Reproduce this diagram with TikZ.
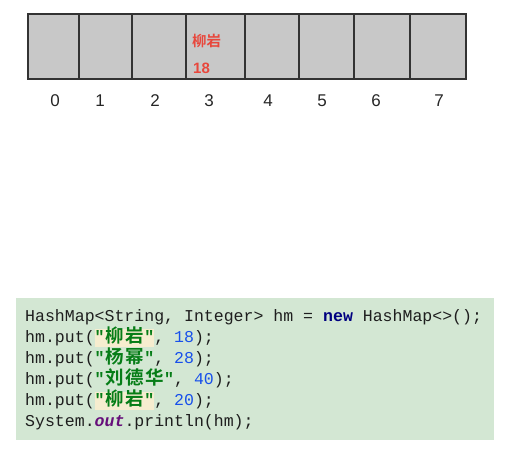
\documentclass[tikz,border=0pt]{standalone}
\usepackage{fontspec}
\setmonofont{Liberation Mono}
\newfontfamily\cjk{Noto Sans CJK SC}[BoldFont={Noto Sans CJK SC Bold}]
\newfontfamily\labfont{Liberation Sans}
\definecolor{cellgray}{HTML}{C8C8C8}
\definecolor{celledge}{HTML}{333333}
\definecolor{redtxt}{HTML}{E8473C}
\definecolor{panelbg}{HTML}{D3E7D3}
\definecolor{hlbg}{HTML}{F6EDCF}
\definecolor{strgreen}{HTML}{067D17}
\definecolor{numblue}{HTML}{1750EB}
\definecolor{kwnavy}{HTML}{000080}
\definecolor{outpurple}{HTML}{660E7A}
\definecolor{codetxt}{HTML}{1E1E1E}
\newlength\colw \setlength\colw{9.93pt}
\newcommand\cz[1]{\makebox[2\colw]{\cjk\bfseries\fontsize{18.5}{21}\selectfont #1}}
\newcommand\jstr[1]{{\color{strgreen}\bfseries"#1"}}
\newcommand\hlstr[2]{\makebox[0pt][l]{\color{hlbg}\rule[-5pt]{#1\colw}{18pt}}\jstr{#2}}
\newcommand\num[1]{{\color{numblue}#1}}
\begin{document}
\begin{tikzpicture}[x=1pt,y=-1pt,
  cell/.style={draw=celledge,fill=cellgray,line width=1.3pt,minimum height=65pt,inner sep=0pt},
  idx/.style={font=\labfont\fontsize{17}{20}\selectfont,text=black!85},
  codeline/.style={anchor=base west,inner sep=0pt,text=codetxt,font=\ttfamily\fontsize{16.55}{21}\selectfont}]
\useasboundingbox (0,0) rectangle (507,453);
% array cells
\node[cell,minimum width=51pt] (c0) at (53.5,46.5) {};
\node[cell,minimum width=53pt] (c1) at (105.5,46.5) {};
\node[cell,minimum width=54pt] (c2) at (159,46.5) {};
\node[cell,minimum width=59pt] (c3) at (215.5,46.5) {};
\node[cell,minimum width=54pt] (c4) at (272,46.5) {};
\node[cell,minimum width=55pt] (c5) at (326.5,46.5) {};
\node[cell,minimum width=56pt] (c6) at (382,46.5) {};
\node[cell,minimum width=56pt] (c7) at (438,46.5) {};
\node[anchor=west,inner sep=0pt,text=redtxt,font=\cjk\bfseries\fontsize{14.5}{16}\selectfont] (k3) at (192,41) {柳岩};
\node[anchor=west,inner sep=0pt,text=redtxt,font=\labfont\bfseries\fontsize{15}{16}\selectfont] (v3) at (193,68) {18};
% indices
\node[idx] (l0) at (55,101) {0};
\node[idx] (l1) at (100,101) {1};
\node[idx] (l2) at (155,101) {2};
\node[idx] (l3) at (209,101) {3};
\node[idx] (l4) at (268,101) {4};
\node[idx] (l5) at (322,101) {5};
\node[idx] (l6) at (376,101) {6};
\node[idx] (l7) at (439,101) {7};
% code panel
\fill[panelbg] (16,298) rectangle (494,440);
\node[codeline] (s1) at (25,321) {HashMap<String, Integer> hm = {\color{kwnavy}\bfseries new} HashMap<>();};
\node[codeline] (s2) at (25,342) {hm.put(\hlstr{6}{\cz{柳}\cz{岩}}, \num{18});};
\node[codeline] (s3) at (25,363) {hm.put(\jstr{\cz{杨}\cz{幂}}, \num{28});};
\node[codeline] (s4) at (25,384) {hm.put(\jstr{\cz{刘}\cz{德}\cz{华}}, \num{40});};
\node[codeline] (s5) at (25,405) {hm.put(\hlstr{6}{\cz{柳}\cz{岩}}, \num{20});};
\node[codeline] (s6) at (25,426) {System.{\color{outpurple}\bfseries\itshape out}.println(hm);};
\end{tikzpicture}
\end{document}
